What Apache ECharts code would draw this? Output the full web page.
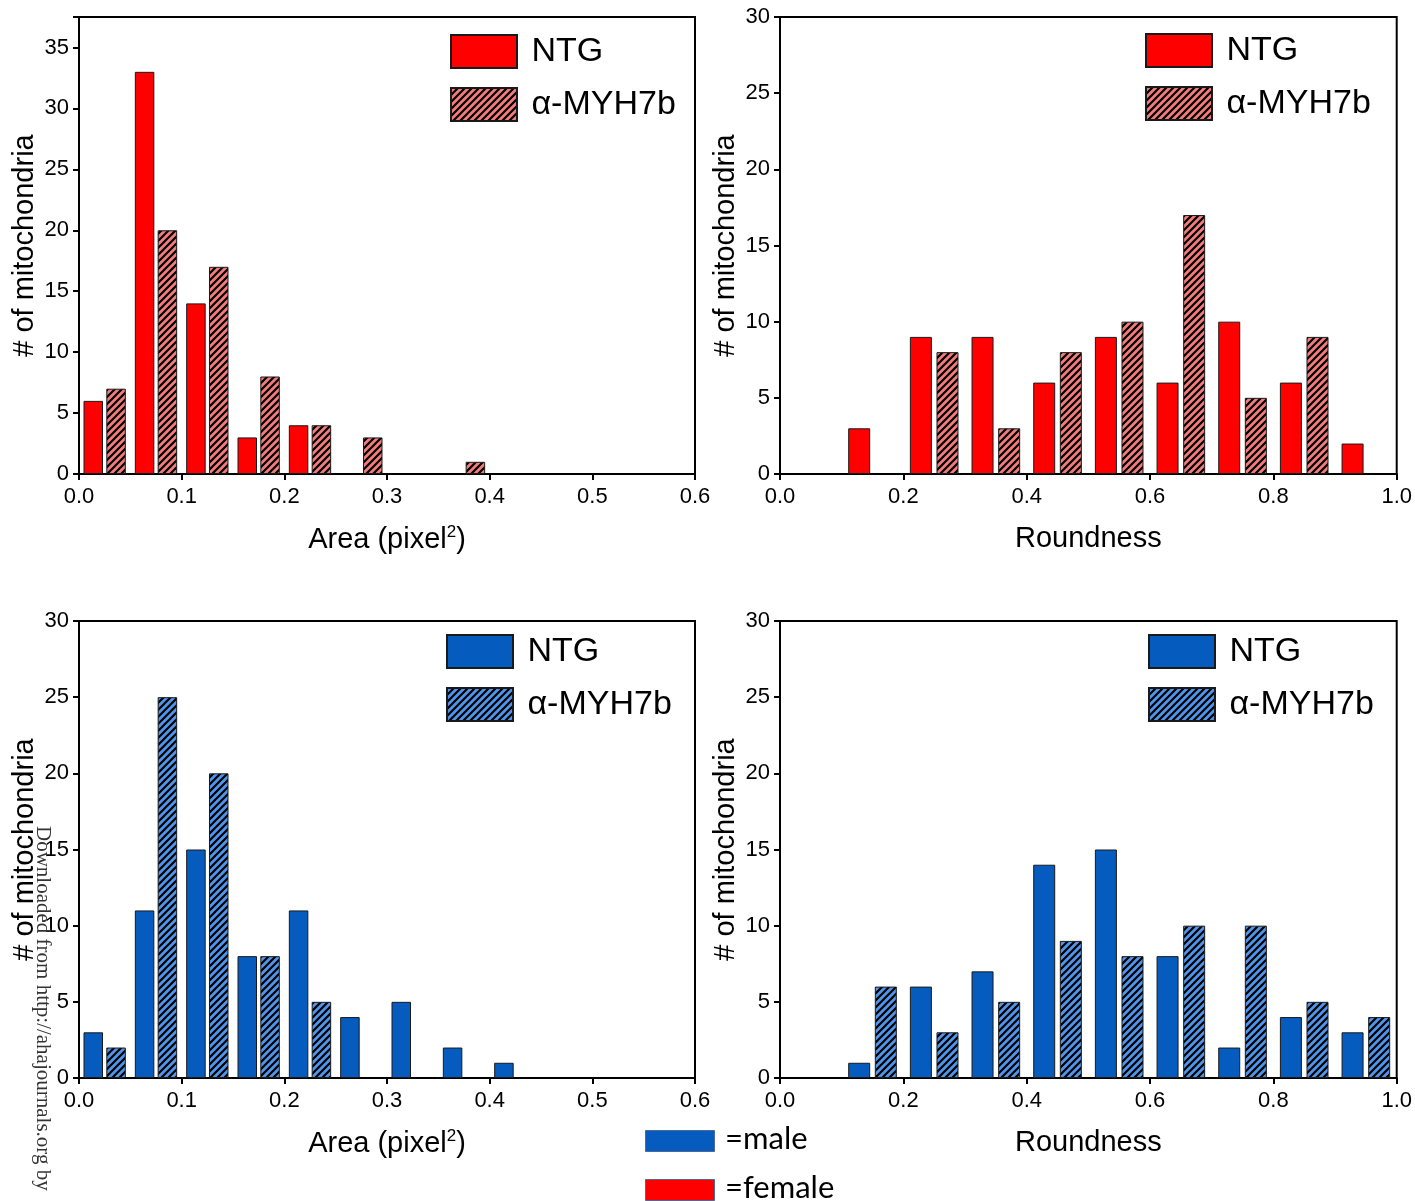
<!DOCTYPE html>
<html><head><meta charset="utf-8">
<script src="https://cdn.jsdelivr.net/npm/echarts@6/dist/echarts.min.js"></script>
<style>html,body{margin:0;padding:0;background:#fff}#c{width:1415px;height:1201px}</style>
</head><body><div id="c"></div>
<script>
// ---------- data ----------
const legendNames = ['NTG', 'α-MYH7b'];
const areaBinCenters = [0.025, 0.075, 0.125, 0.175, 0.225, 0.275, 0.325, 0.375, 0.425];
const femaleAreaNTG  = [6, 33, 14, 3, 4, 0, 0, 0, 0];
const femaleAreaMYH  = [7, 20, 17, 8, 4, 3, 0, 1, 0];
const maleAreaNTG    = [3, 11, 15, 8, 11, 4, 5, 2, 1];
const maleAreaMYH    = [2, 25, 20, 8, 5, 0, 0, 0, 0];
const roundBinCenters = [0.15, 0.25, 0.35, 0.45, 0.55, 0.65, 0.75, 0.85, 0.95];
const femaleRoundNTG = [3, 9, 9, 6, 9, 6, 10, 6, 2];
const femaleRoundMYH = [0, 8, 3, 8, 10, 17, 5, 9, 0];
const maleRoundNTG   = [1, 6, 7, 14, 15, 8, 2, 4, 3];
const maleRoundMYH   = [6, 3, 5, 9, 8, 10, 10, 5, 4];
const areaAxis  = {min: 0, max: 0.6, interval: 0.1};
const roundAxis = {min: 0, max: 1.0, interval: 0.2};
const yAxisTop  = [37.5, 30, 30, 30];
const xTitles = ['Area (pixel{sup|2})', 'Roundness', 'Area (pixel{sup|2})', 'Roundness'];
const yTitle = '# of mitochondria';
const sexLegend = ['=male', '=female'];
const watermark = 'Downloaded from http://ahajournals.org by';

// ---------- styling ----------
const RED = '#FF0000', RED_H = '#F37B7B', BLUE = '#055BBE', BLUE_H = '#4F95EC';
function hatch(bg) {
  const s = 7, c = document.createElement('canvas');
  c.width = s; c.height = s;
  const g = c.getContext('2d');
  g.fillStyle = bg; g.fillRect(0, 0, s, s);
  g.strokeStyle = '#000'; g.lineWidth = 2.2;
  g.beginPath();
  g.moveTo(-1, s + 1); g.lineTo(s + 1, -1);
  g.moveTo(-2, 2); g.lineTo(2, -2);
  g.moveTo(s - 2, s + 2); g.lineTo(s + 2, s - 2);
  g.stroke();
  return {image: c, repeat: 'repeat'};
}
const FONT = 'Liberation Sans';
const grids = [
  {left: 79, top: 17, width: 616, height: 457},
  {left: 780, top: 17, width: 617, height: 457},
  {left: 79, top: 621, width: 616, height: 457},
  {left: 780, top: 621, width: 617, height: 457}
];
const panels = [
  {key: 'fa', centers: areaBinCenters, a: femaleAreaNTG, b: femaleAreaMYH, c1: RED, c2: hatch(RED_H), ax: areaAxis, bw: 19.5, gap: '17%'},
  {key: 'fr', centers: roundBinCenters, a: femaleRoundNTG, b: femaleRoundMYH, c1: RED, c2: hatch(RED_H), ax: roundAxis, bw: 22, gap: '21%'},
  {key: 'ma', centers: areaBinCenters, a: maleAreaNTG, b: maleAreaMYH, c1: BLUE, c2: hatch(BLUE_H), ax: areaAxis, bw: 19.5, gap: '17%'},
  {key: 'mr', centers: roundBinCenters, a: maleRoundNTG, b: maleRoundMYH, c1: BLUE, c2: hatch(BLUE_H), ax: roundAxis, bw: 22, gap: '21%'}
];
const legendPos = [[450, 34], [1145, 33], [446, 634], [1148, 634]];

const axisCommon = {
  axisLine: {show: true, lineStyle: {color: '#000', width: 2}},
  axisTick: {show: true, length: 6, lineStyle: {color: '#000', width: 2}},
  splitLine: {show: false}
};

const xAxis = [], yAxis = [], series = [], legend = [];
panels.forEach((p, i) => {
  xAxis.push(Object.assign({}, axisCommon, {
    type: 'value', gridIndex: i, min: p.ax.min, max: p.ax.max, interval: p.ax.interval,
    axisLabel: {fontSize: 22, fontFamily: FONT, color: '#000', margin: 12, formatter: v => v.toFixed(1)},
    name: xTitles[i], nameLocation: 'middle', nameGap: 50,
    nameTextStyle: {fontSize: 29, fontFamily: FONT, color: '#000',
      rich: {sup: {fontSize: 17, fontFamily: FONT, color: '#000', padding: [0, 0, 14, 0]}}}
  }));
  yAxis.push(Object.assign({}, axisCommon, {
    type: 'value', gridIndex: i, min: 0, max: yAxisTop[i], interval: 5,
    axisLabel: {fontSize: 22, fontFamily: FONT, color: '#000', margin: 10,
      formatter: v => (v % 5 === 0 ? String(v) : '')},
    name: yTitle, nameLocation: 'middle', nameGap: 40,
    nameTextStyle: {fontSize: 29, fontFamily: FONT, color: '#000'}
  }));
  const mk = (name, vals, fill) => ({
    type: 'bar', name: p.key + '|' + name, xAxisIndex: i, yAxisIndex: i,
    barWidth: p.bw, barGap: p.gap,
    data: p.centers.map((c, k) => [c, vals[k]]).filter(d => d[1] > 0),
    itemStyle: {color: fill, borderColor: '#1a1a1a', borderWidth: 1},
    silent: true
  });
  series.push(mk(legendNames[0], p.a, p.c1));
  series.push(mk(legendNames[1], p.b, p.c2));
  legend.push({
    orient: 'vertical', left: legendPos[i][0], top: legendPos[i][1], padding: 0,
    itemWidth: 66, itemHeight: 33, itemGap: 18, icon: 'rect',
    data: legendNames.map(n => p.key + '|' + n),
    formatter: n => ' ' + n.split('|')[1],
    textStyle: {fontSize: 34, fontFamily: FONT, color: '#000', lineHeight: 33},
    selectedMode: false
  });
});

const option = {
  animation: false,
  backgroundColor: '#fff',
  grid: grids.map(g => Object.assign({show: true, borderColor: '#000', borderWidth: 2, backgroundColor: 'transparent'}, g)),
  xAxis, yAxis, series, legend,
  graphic: [
    {type: 'rect', left: 645, top: 1130, shape: {width: 69, height: 21}, style: {fill: BLUE, stroke: '#4a6a9a', lineWidth: 1}},
    {type: 'text', x: 725, y: 1139, style: {text: sexLegend[0], font: '31px Lato', fill: '#000', textVerticalAlign: 'middle'}},
    {type: 'rect', left: 645, top: 1179, shape: {width: 69, height: 21}, style: {fill: RED, stroke: '#4a6a9a', lineWidth: 1}},
    {type: 'text', x: 725, y: 1188, style: {text: sexLegend[1], font: '31px Lato', fill: '#000', textVerticalAlign: 'middle'}},
    {type: 'text', x: 43, y: 826, rotation: -Math.PI / 2, z: 100,
      style: {text: watermark, font: '21px "Liberation Serif"', fill: '#333', textAlign: 'left', textVerticalAlign: 'middle'}}
  ]
};
const chart = echarts.init(document.getElementById('c'), null, {renderer: 'canvas'});
chart.setOption(option);
</script>
</body></html>
